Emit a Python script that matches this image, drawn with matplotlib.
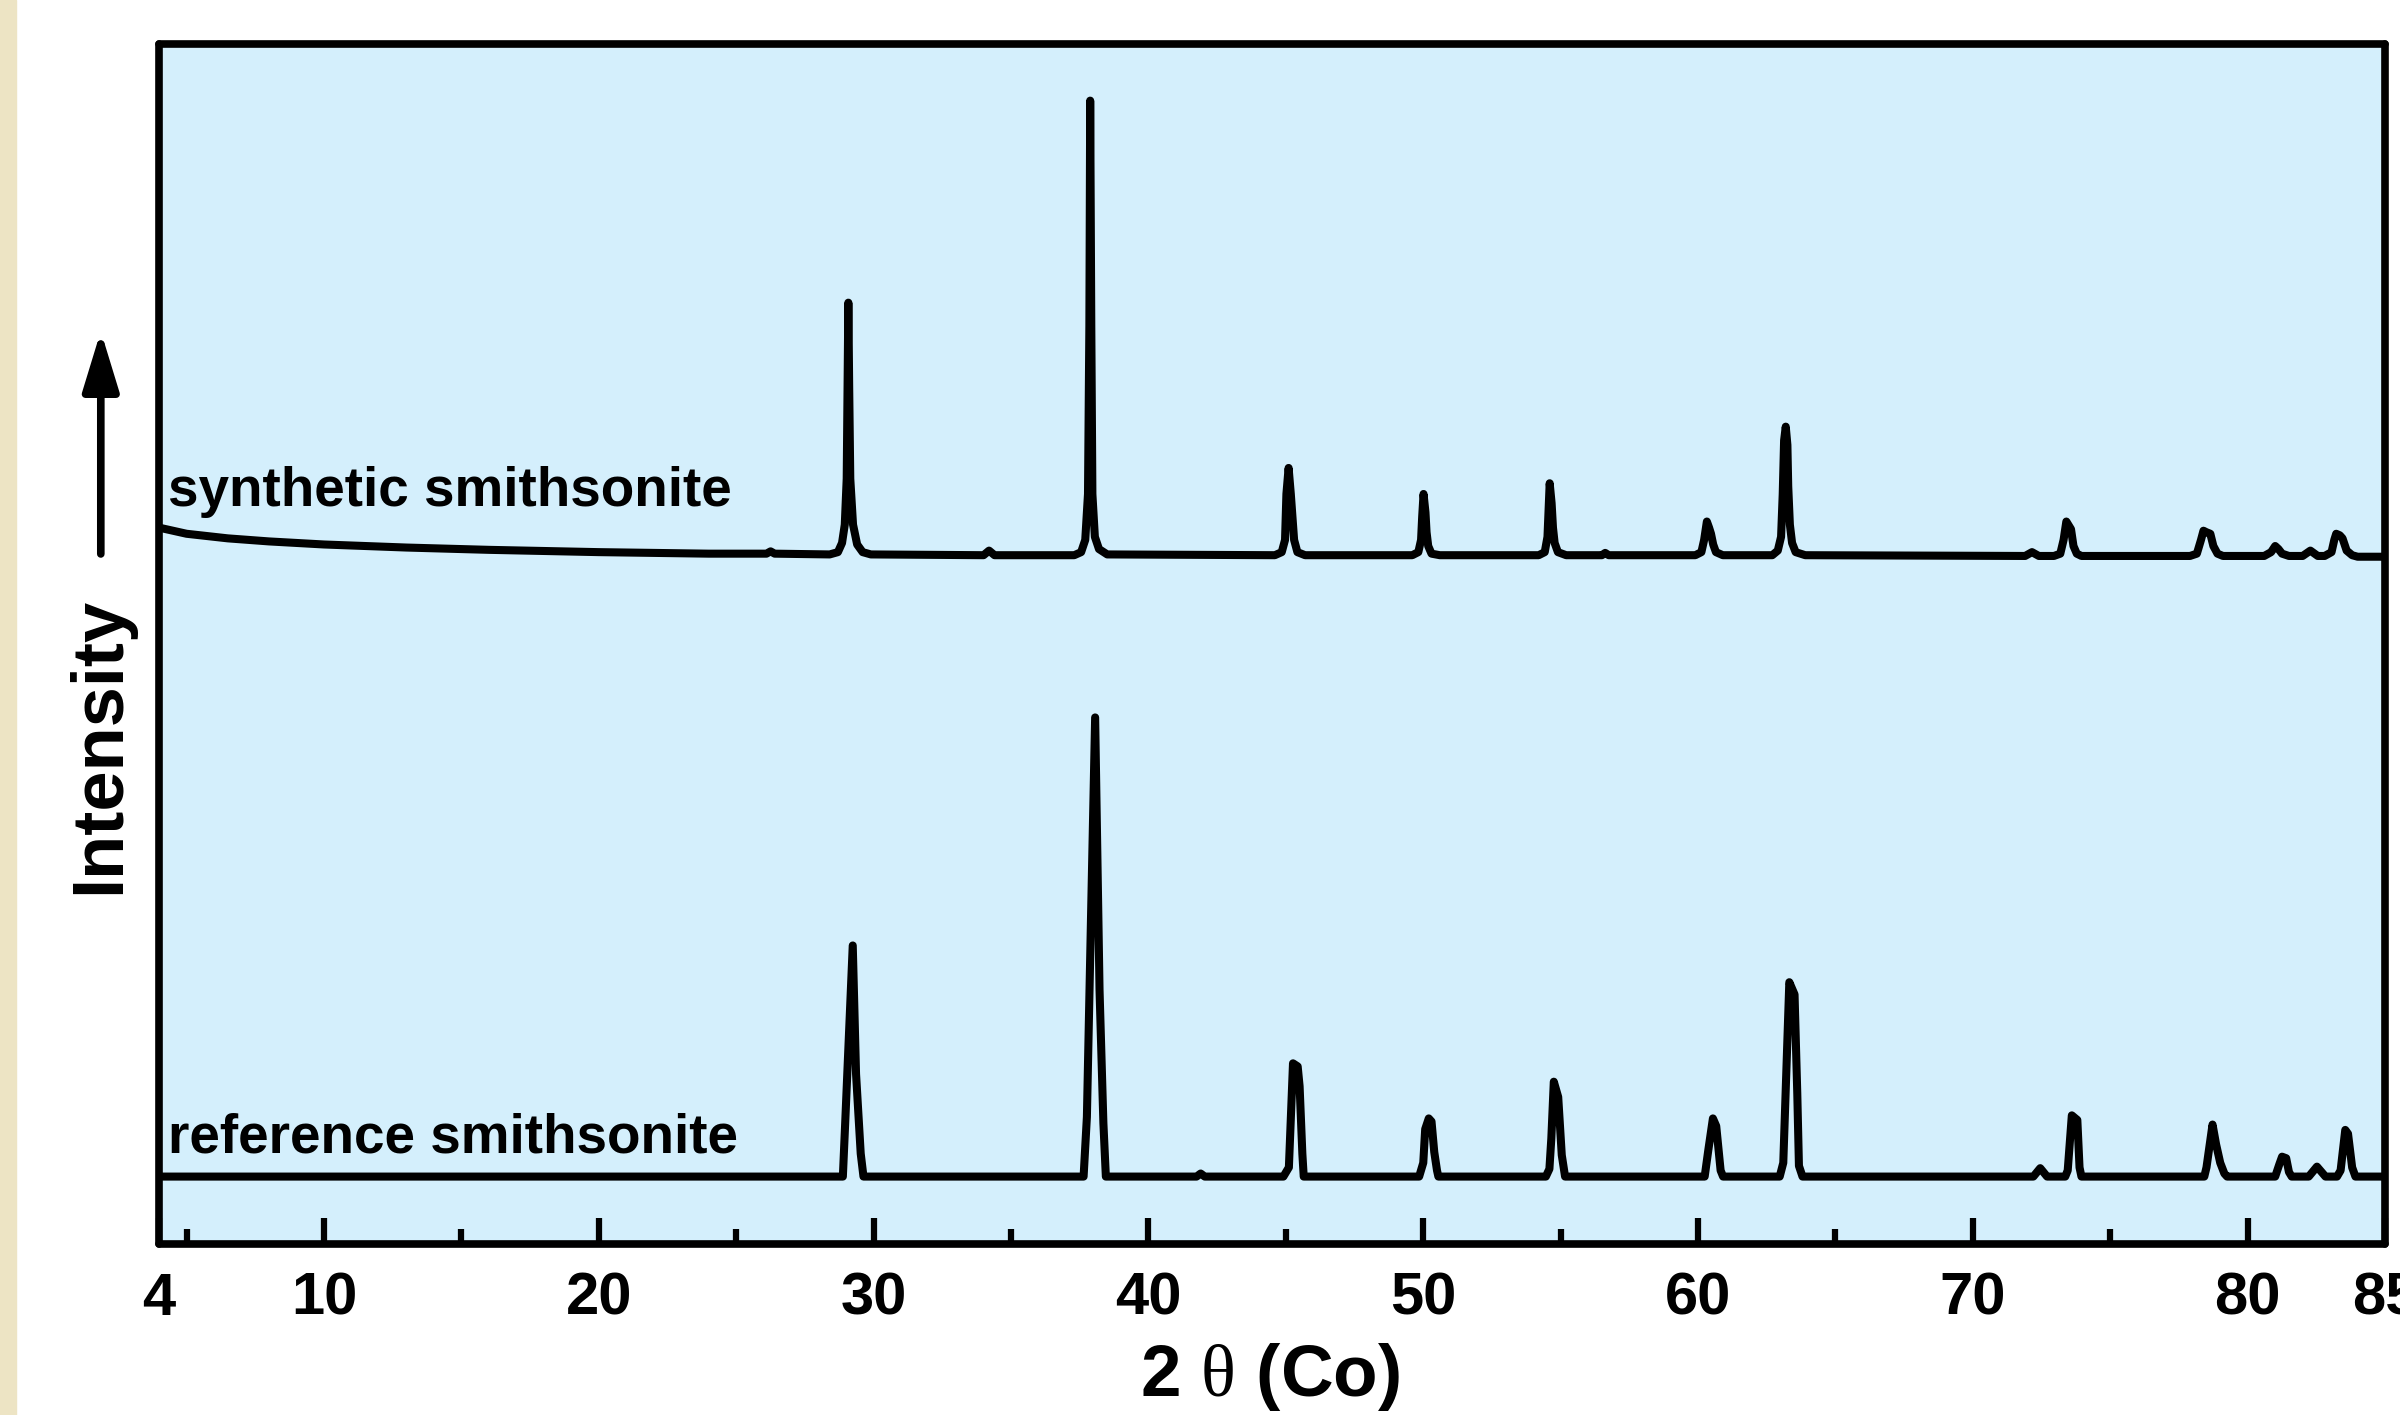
import matplotlib
matplotlib.use("Agg")
import matplotlib.pyplot as plt
from matplotlib.patches import Rectangle

# 2-theta (Co) and intensity (arbitrary, offset traces)
ref_2theta = [4.0,
              28.88, 28.96, 29.24, 29.36, 29.53, 29.63,
              37.64, 37.76, 38.06, 38.22, 38.36, 38.45,
              41.75, 41.9, 42.05,
              44.91, 45.11, 45.26, 45.43, 45.5, 45.6, 45.65,
              49.85, 50.0, 50.07, 50.2, 50.3, 50.4, 50.5, 50.55,
              54.46, 54.59, 54.66, 54.75, 54.91, 55.04, 55.16,
              60.24, 60.37, 60.54, 60.66, 60.82, 60.91,
              62.97, 63.1, 63.32, 63.51, 63.61, 63.67, 63.8,
              72.2, 72.45, 72.7,
              73.36, 73.45, 73.6, 73.8, 73.88, 73.95,
              78.42, 78.5, 78.72, 78.85, 79.0, 79.15, 79.25,
              81.0, 81.15, 81.25, 81.4, 81.5, 81.6,
              82.22, 82.52, 82.83,
              83.25, 83.38, 83.55, 83.65, 83.8, 83.92,
              85.0]
ref_counts = [44,
              44, 77, 195, 111, 59, 44,
              44, 83, 344, 166, 79, 44,
              44, 46, 44,
              44, 50, 118, 116, 103, 59, 44,
              44, 53, 75, 82, 80, 60, 48, 44,
              44, 49, 69, 106, 96, 58, 44,
              44, 61, 82, 77, 48, 44,
              44, 53, 171, 163, 98, 51, 44,
              44, 49.5, 44,
              44, 48, 84, 81, 50, 44,
              44, 50, 78, 65, 53, 46, 44,
              44, 52, 57, 56, 47, 44,
              44, 50.5, 44,
              44, 48, 74.5, 72, 50, 44,
              44]

syn_2theta = [4.0, 5.0, 6.5, 8.0, 10.0, 13.0, 16.0, 20.0, 24.0,
              26.1, 26.25, 26.4,
              28.4, 28.7, 28.85, 28.95, 29.02, 29.05, 29.08, 29.11, 29.15, 29.25, 29.4, 29.6, 29.9,
              34.0, 34.2, 34.4,
              37.3, 37.55, 37.7, 37.8, 37.85, 37.88, 37.92, 37.96, 38.05, 38.2, 38.5,
              44.6, 44.85, 44.97, 45.02, 45.1, 45.18, 45.24, 45.3, 45.42, 45.7,
              49.6, 49.82, 49.92, 49.96, 50.01, 50.08, 50.12, 50.18, 50.3, 50.6,
              54.2, 54.42, 54.52, 54.56, 54.6, 54.67, 54.72, 54.78, 54.9, 55.2,
              56.5, 56.62, 56.75,
              59.9, 60.12, 60.22, 60.32, 60.4, 60.47, 60.55, 60.65, 60.9,
              62.7, 62.9, 63.02, 63.08, 63.13, 63.19, 63.25, 63.28, 63.34, 63.42, 63.55, 63.9,
              71.9, 72.15, 72.4,
              72.95, 73.18, 73.3, 73.4, 73.5, 73.57, 73.66, 73.78, 73.95,
              77.9, 78.15, 78.3, 78.39, 78.5, 78.64, 78.75, 78.9, 79.1,
              80.6, 80.85, 81.0, 81.12, 81.25, 81.5,
              82.0, 82.28, 82.55,
              82.8, 83.05, 83.15, 83.22, 83.35, 83.45, 83.6, 83.8, 84.0,
              85.0]
syn_counts = [468, 464, 461, 459, 457, 455, 453.5, 452, 451,
              451, 452.5, 451,
              450.5, 452, 458, 470, 500, 560, 615, 560, 500, 470, 457, 452, 450.5,
              450, 453, 450,
              450, 452, 460, 490, 600, 747, 600, 490, 462, 454, 450.5,
              450, 452, 460, 490, 507, 490, 475, 460, 452, 450,
              450, 452, 460, 475, 490, 478, 465, 456, 451, 450,
              450, 452, 462, 480, 497, 484, 468, 458, 452, 450,
              450, 451.5, 450,
              450, 452, 460, 472, 468, 464, 457, 452, 450,
              450, 453, 462, 490, 525, 534, 522, 495, 470, 458, 452, 450,
              449.5, 452, 449.5,
              449.5, 451, 460, 472, 469, 467, 456, 451, 449.5,
              449.5, 451, 460, 466, 465, 464, 456, 451, 449.5,
              449.5, 452, 456, 454, 451, 449.5,
              449.5, 453, 449.5,
              449.5, 452, 460, 464, 463, 461, 453, 450, 449,
              449]

major_ticks = [4, 10, 20, 30, 40, 50, 60, 70, 80, 85]
minor_ticks = [5, 15, 25, 35, 45, 55, 65, 75]

fig = plt.figure(figsize=(24, 14.15), dpi=100)
fig.add_artist(Rectangle((0, 0), 16 / 2400, 1, transform=fig.transFigure,
                         color="#EDE4C4", zorder=0))

ax = fig.add_axes([0.0663, 0.1209, 0.9275, 0.848])
ax.set_facecolor("#D4EFFC")

ax.plot(syn_2theta, syn_counts, color="black", lw=5.8, solid_joinstyle="round",
        solid_capstyle="round")
ax.plot(ref_2theta, ref_counts, color="black", lw=5.8, solid_joinstyle="round",
        solid_capstyle="round")

ax.set_xlim(4, 85)
ax.set_ylim(0, 784)

for s in ax.spines.values():
    s.set_linewidth(5.5)
    s.set_capstyle("round")

ax.set_yticks([])
ax.set_xticks(major_ticks)
ax.set_xticks(minor_ticks, minor=True)
ax.set_xticklabels([str(t) for t in major_ticks],
                   fontfamily="Liberation Sans",
                   fontweight="bold", fontsize=43)
ax.tick_params(axis="x", which="major", direction="in", length=19, width=4.5, pad=20)
ax.tick_params(axis="x", which="minor", direction="in", length=11, width=4.5)

lblfont = dict(family="Liberation Sans", weight="bold", size=39.5)
ax.text(4.33, 482, "synthetic smithsonite", va="baseline", ha="left", **lblfont)
ax.text(4.33, 60, "reference smithsonite", va="baseline", ha="left", **lblfont)

plt.rcParams["mathtext.fontset"] = "custom"
plt.rcParams["mathtext.rm"] = "Liberation Serif"
fig.text(0.529, 0.0134, r"2 $\mathrm{\theta}$ (Co)", ha="center", va="baseline",
         family="Liberation Sans", weight="bold", size=52.5)
fig.text(0.0417, 0.473, "Intensity", rotation=90, ha="center", va="center",
         family="Liberation Sans", weight="bold", size=52)

# arrow beside the y label
ax.annotate("", xy=(0.042, 0.766), xytext=(0.042, 0.6085),
            xycoords="figure fraction", textcoords="figure fraction",
            arrowprops=dict(arrowstyle="-|>,head_length=1.8,head_width=0.55",
                            lw=5.5, color="black", mutation_scale=20,
                            shrinkA=0, shrinkB=0, capstyle="round",
                            joinstyle="round"))

fig.savefig("out.png", dpi=100)
